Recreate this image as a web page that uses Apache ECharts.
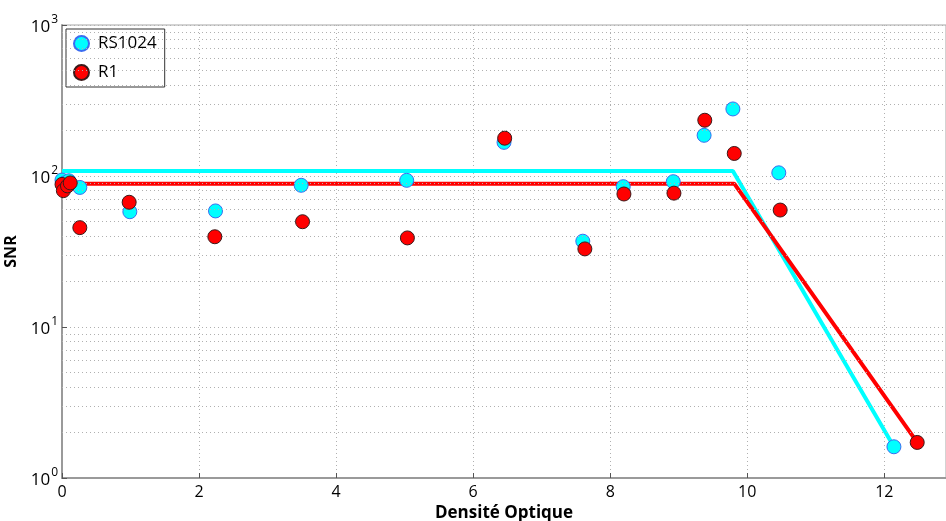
<!DOCTYPE html>
<html><head><meta charset="utf-8">
<script src="https://cdn.jsdelivr.net/npm/echarts@6/dist/echarts.min.js"></script>
<style>html,body{margin:0;padding:0;background:#fff}#c{width:946px;height:521px}</style>
</head><body><div id="c"></div>
<script>
// Data
const rsX = [0.0, 0.04, 0.1, 0.26, 0.99, 2.24, 3.49, 5.03, 6.45, 7.60, 8.19, 8.92, 9.37, 9.79, 10.46, 12.14];
const rsY = [94, 90, 93, 84, 58, 58.7, 86.8, 93.6, 167, 37, 85, 91.7, 186, 278, 105, 1.61];
const r1X = [0.0, 0.02, 0.08, 0.12, 0.26, 0.98, 2.23, 3.51, 5.04, 6.46, 7.63, 8.20, 8.93, 9.38, 9.81, 10.48, 12.48];
const r1Y = [88, 80, 86, 90, 45.5, 67, 39.6, 49.8, 38.9, 178, 32.9, 76, 77, 234, 141, 59.5, 1.72];
const rsFitX = [0, 9.79, 12.14];
const rsFitY = [108, 108, 1.61];
const r1FitX = [0, 9.81, 12.48];
const r1FitY = [89, 89, 1.72];
const xTicks = [0, 2, 4, 6, 8, 10, 12];
const minorY = [2,3,4,5,6,7,8,9,20,30,40,50,60,70,80,90,200,300,400,500,600,700,800,900];
const seriesNames = ['RS1024', 'R1'];

const zip = (xs, ys) => xs.map((x, i) => [x, ys[i]]);
const FONT = '"Open Sans", "Liberation Sans", sans-serif';

const chart = echarts.init(document.getElementById('c'), null, {renderer: 'canvas'});
chart.setOption({
  animation: false,
  backgroundColor: '#fff',
  grid: {left: 62, right: 0, top: 25, bottom: 43, show: true, borderColor: '#a6a6a6', borderWidth: 1,
         containLabel: false, outerBoundsMode: 'none'},
  legend: {
    left: 66, top: 29, orient: 'vertical',
    data: seriesNames.map(n => ({name: n, icon: 'circle'})),
    itemWidth: 15, itemHeight: 15, itemGap: 12,
    padding: [6, 8, 6, 7],
    borderColor: '#333', borderWidth: 1, backgroundColor: '#fff',
    textStyle: {fontFamily: FONT, fontSize: 17, color: '#000', padding: [0, 0, 0, 4]}
  },
  xAxis: {
    type: 'value', min: 0, max: 12.9, interval: 2,
    name: 'Densité Optique', nameLocation: 'middle', nameGap: 25,
    nameTextStyle: {fontFamily: FONT, fontWeight: 'bold', fontSize: 17, color: '#000'},
    axisLine: {show: true, lineStyle: {color: '#9a9a9a', width: 2}},
    axisTick: {show: true, inside: true, length: 5, lineStyle: {color: '#555'}},
    axisLabel: {fontFamily: FONT, fontSize: 16, color: '#000', margin: 6, showMaxLabel: false,
      formatter: v => xTicks.includes(v) ? String(v) : ''},
    splitLine: {show: true, lineStyle: {color: '#b0b0b0', type: [1, 3], width: 1}}
  },
  yAxis: {
    type: 'log', min: 1, max: 1000, logBase: 10,
    name: 'SNR', nameLocation: 'middle', nameGap: 37, nameRotate: 90,
    nameTextStyle: {fontFamily: FONT, fontWeight: 'bold', fontSize: 16, color: '#000'},
    axisLine: {show: true, lineStyle: {color: '#9a9a9a', width: 2}},
    axisTick: {show: true, inside: true, length: 5, lineStyle: {color: '#555'}},
    axisLabel: {
      margin: 4,
      formatter: v => '{b|10}{s|' + Math.round(Math.log10(v)) + '}',
      rich: {
        b: {fontFamily: FONT, fontSize: 17, color: '#000', verticalAlign: 'bottom'},
        s: {fontFamily: FONT, fontSize: 12, color: '#000', verticalAlign: 'top', padding: [0, 0, 10, 1]}
      }
    },
    splitLine: {show: true, lineStyle: {color: '#b0b0b0', type: [1, 3], width: 1}}
  },
  series: [
    {
      name: 'minor', type: 'line', data: [], silent: true, legendHoverLink: false,
      markLine: {
        silent: true, symbol: 'none', label: {show: false}, animation: false,
        lineStyle: {color: '#b0b0b0', type: [1, 3], width: 1},
        data: minorY.map(v => ({yAxis: v}))
      }
    },
    {
      name: 'fitRS', type: 'line', data: zip(rsFitX, rsFitY), symbol: 'none', z: 3,
      lineStyle: {color: '#00ffff', width: 4}, silent: true
    },
    {
      name: 'fitR1', type: 'line', data: zip(r1FitX, r1FitY), symbol: 'none', z: 3,
      lineStyle: {color: '#ff0000', width: 4}, silent: true
    },
    {
      name: seriesNames[0], type: 'scatter', data: zip(rsX, rsY), symbol: 'circle', symbolSize: 14, z: 4,
      itemStyle: {color: '#00ffff', borderColor: '#3b6cf0', borderWidth: 1, opacity: 1}
    },
    {
      name: seriesNames[1], type: 'scatter', data: zip(r1X, r1Y), symbol: 'circle', symbolSize: 14, z: 5,
      itemStyle: {color: '#ff0000', borderColor: '#3a1a1a', borderWidth: 1, opacity: 1}
    }
  ]
});
</script></body></html>
